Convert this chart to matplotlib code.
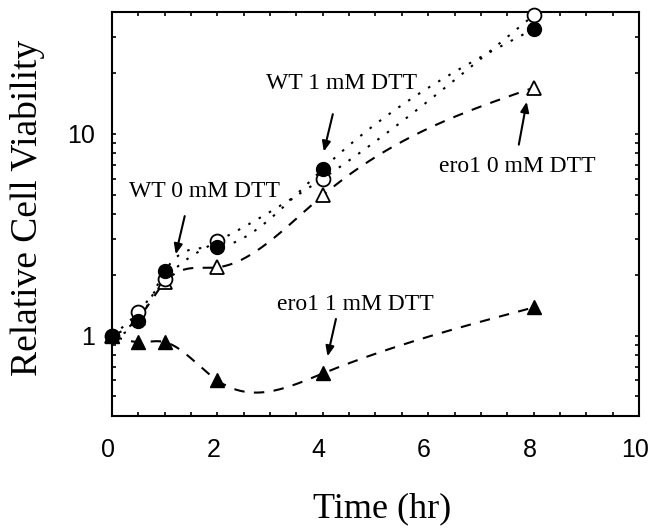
import numpy as np
import matplotlib
matplotlib.use('Agg')
import matplotlib.pyplot as plt
import matplotlib.transforms as mtransforms
from matplotlib.ticker import FixedLocator, NullFormatter, LogLocator, MultipleLocator

# ---- data ----
time_hr = [0, 0.5, 1, 2, 4, 8]
wt_0mM = [1.0, 1.31, 1.90, 2.93, 6.0, 38.6]
wt_1mM = [1.0, 1.18, 2.08, 2.74, 6.7, 33.0]
ero1_0mM = [1.0, 1.22, 1.84, 2.18, 4.95, 16.9]
ero1_1mM = [1.0, 0.93, 0.93, 0.60, 0.65, 1.38]

x_ticks = [0, 2, 4, 6, 8, 10]
y_ticks = [1, 10]
y_tick_labels = ['1', '10']

labels = ['WT 1 mM DTT', 'ero1 0 mM DTT', 'WT 0 mM DTT', 'ero1 1 mM DTT']
label_xy = [(4.36, 17.7), (7.69, 6.87), (1.75, 5.18), (4.61, 1.43)]
arrow_tail = [(4.19, 12.5), (7.72, 8.83), (1.38, 3.91), (4.25, 1.21)]
arrow_tip = [(4.02, 8.16), (7.87, 14.4), (1.21, 2.53), (4.09, 0.79)]


def natural_spline(x, y, xs):
    x = np.asarray(x, float)
    y = np.asarray(y, float)
    n = len(x)
    h = np.diff(x)
    A = np.zeros((n, n))
    b = np.zeros(n)
    A[0, 0] = 1
    A[-1, -1] = 1
    for i in range(1, n - 1):
        A[i, i - 1] = h[i - 1]
        A[i, i] = 2 * (h[i - 1] + h[i])
        A[i, i + 1] = h[i]
        b[i] = 6 * ((y[i + 1] - y[i]) / h[i] - (y[i] - y[i - 1]) / h[i - 1])
    M = np.linalg.solve(A, b)
    idx = np.clip(np.searchsorted(x, xs) - 1, 0, n - 2)
    x0, x1 = x[idx], x[idx + 1]
    hh = x1 - x0
    t0 = x1 - xs
    t1 = xs - x0
    return (M[idx] * t0 ** 3 / (6 * hh) + M[idx + 1] * t1 ** 3 / (6 * hh)
            + (y[idx] / hh - M[idx] * hh / 6) * t0
            + (y[idx + 1] / hh - M[idx + 1] * hh / 6) * t1)


def smooth(x, y):
    xs = np.linspace(min(x), max(x), 300)
    ys = 10 ** natural_spline(x, np.log10(y), xs)
    return xs, ys


fig = plt.figure(figsize=(6.5, 5.3), dpi=100)
ax = fig.add_axes([0.1723, 0.215, 0.8107, 0.762])

dotted = (0, (1.2, 4.5))
dashed = (0, (5, 4.5))
lw = 1.5

for series, ls in [(wt_0mM, dotted), (wt_1mM, dotted), (ero1_0mM, dashed), (ero1_1mM, dashed)]:
    xs, ys = smooth(time_hr, series)
    ax.plot(xs, ys, color='black', linestyle=ls, linewidth=lw, zorder=2)

ms = 10
ax.plot(time_hr, ero1_0mM, linestyle='none', marker='^', markersize=ms,
        markerfacecolor='white', markeredgecolor='black', markeredgewidth=1.3, zorder=3, clip_on=False)
ax.plot(time_hr, wt_0mM, linestyle='none', marker='o', markersize=ms,
        markerfacecolor='white', markeredgecolor='black', markeredgewidth=1.3, zorder=3, clip_on=False)
ax.plot(time_hr, wt_1mM, linestyle='none', marker='o', markersize=ms,
        markerfacecolor='black', markeredgecolor='black', zorder=4, clip_on=False)
ax.plot(time_hr, ero1_1mM, linestyle='none', marker='^', markersize=ms,
        markerfacecolor='black', markeredgecolor='black', zorder=4, clip_on=False)

ax.set_xlim(0, 10)
ax.set_yscale('log')
ax.set_ylim(0.4, 40)

ax.xaxis.set_major_locator(FixedLocator(x_ticks))
ax.xaxis.set_minor_locator(MultipleLocator(0.5))
ax.yaxis.set_major_locator(FixedLocator(y_ticks))
ax.yaxis.set_minor_locator(LogLocator(base=10, subs=np.arange(2, 10)))
ax.yaxis.set_minor_formatter(NullFormatter())
ax.set_yticklabels(y_tick_labels)

for s in ax.spines.values():
    s.set_linewidth(1.5)

ax.tick_params(which='both', direction='in', top=True, right=True, length=3, width=1.2)
ax.tick_params(axis='x', which='major', pad=16, labelsize=18)
ax.tick_params(axis='y', which='major', pad=12, labelsize=18)
shift = mtransforms.ScaledTranslation(-4 / 100, 0, fig.dpi_scale_trans)
for lab in ax.get_xticklabels():
    lab.set_fontfamily('Liberation Sans')
    lab.set_transform(lab.get_transform() + shift)
for lab in ax.get_yticklabels():
    lab.set_fontfamily('Liberation Sans')

serif = 'Liberation Serif'
ax.set_xlabel('Time (hr)', fontsize=26, fontfamily=serif)
ax.xaxis.set_label_coords(0.512, -0.19)
ax.set_ylabel('Relative Cell Viability', fontsize=27, fontfamily=serif)
ax.yaxis.set_label_coords(-0.128, 0.515)

for txt, pos, tail, tip in zip(labels, label_xy, arrow_tail, arrow_tip):
    ax.text(pos[0], pos[1], txt, fontsize=17, fontfamily=serif, ha='center', va='center', zorder=5)
    ax.annotate('', xy=tip, xytext=tail,
                arrowprops=dict(arrowstyle='-|>,head_length=0.6,head_width=0.25',
                                color='black', lw=1.5, shrinkA=0, shrinkB=0), zorder=5)

fig.savefig('out.png', dpi=100)
